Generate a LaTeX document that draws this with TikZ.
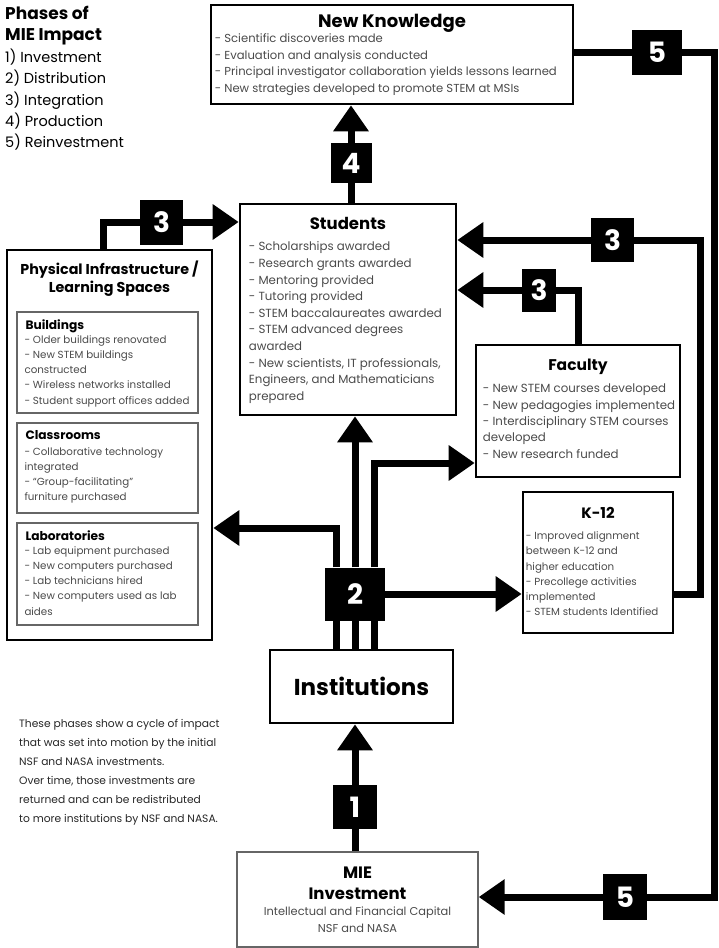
\documentclass[tikz,border=0pt]{standalone}
\usepackage{fontspec}
\setmainfont{Poppins}
\usepackage{tikz}
\usetikzlibrary{positioning,arrows.meta}
\definecolor{bodygray}{HTML}{4A4A4A}

\begin{document}
\begin{tikzpicture}[
  x=1pt, y=-1pt,
  panel/.style={draw, line width=2.6pt, inner sep=0pt},
  subpanel/.style={draw=black!60, line width=1.4pt, inner sep=0pt},
  head/.style={font=\fontsize{15}{18}\selectfont\bfseries, inner sep=0pt, align=center},
  subhead/.style={font=\fontsize{12.2}{14}\selectfont\bfseries, inner sep=0pt},
  body/.style={font=\fontsize{11.6}{16.5}\selectfont, text=bodygray, align=left, inner sep=0pt},
  fine/.style={font=\fontsize{10.3}{15.2}\selectfont, text=bodygray, align=left, inner sep=0pt},
  numbox/.style={fill=black, text=white, font=\fontsize{28}{28}\selectfont\bfseries,
                 minimum width=44pt, minimum height=44pt, inner sep=0pt},
  thk/.style={line width=7pt},
  flow/.style={line width=7pt, -{Triangle[length=26pt,width=34pt]}},
]
\useasboundingbox (0,0) rectangle (718,948);

% legend and note
\node[anchor=north west, align=left, inner sep=0pt,
      font=\fontsize{14.5}{21.4}\selectfont] (phases) at (5,6)
  {{\fontsize{17}{21.4}\selectfont\bfseries Phases of}\\
   {\fontsize{17}{21.4}\selectfont\bfseries MIE Impact}\\1) Investment\\2) Distribution\\
   3) Integration\\4) Production\\5) Reinvestment};
\node[anchor=north west, align=left, inner sep=0pt, text=black!85,
      font=\fontsize{10.7}{19}\selectfont] (cyclenote) at (19,719)
  {These phases show a cycle of impact\\that was set into motion by the initial\\
   NSF and NASA investments.\\Over time, those investments are\\
   returned and can be redistributed\\to more institutions by NSF and NASA.};

% boxes
\node[panel, minimum width=362pt, minimum height=99pt] (knowbox) at (392,54.5) {};
\node[head, font=\fontsize{18}{20}\selectfont\bfseries,
      below=10pt of knowbox.north] (knowhead) {New Knowledge};
\node[body, below right=30pt and 5pt of knowbox.north west] (knowtext)
  {- Scientific discoveries made\\- Evaluation and analysis conducted\\
   - Principal investigator collaboration yields lessons learned\\
   - New strategies developed to promote STEM at MSIs};

\node[panel, minimum width=216pt, minimum height=211pt] (stubox) at (348,309.5) {};
\node[head, font=\fontsize{16.5}{18}\selectfont\bfseries,
      below=14pt of stubox.north] (stuhead) {Students};
\node[body, font=\fontsize{11.8}{16.6}\selectfont,
      below right=39pt and 10pt of stubox.north west] (stutext)
  {- Scholarships awarded\\- Research grants awarded\\- Mentoring provided\\
   - Tutoring provided\\- STEM baccalaureates awarded\\- STEM advanced degrees\\awarded\\
   - New scientists, IT professionals,\\Engineers, and Mathematicians\\prepared};

\node[panel, minimum width=204pt, minimum height=132pt] (facbox) at (578,411) {};
\node[head, font=\fontsize{15.5}{18}\selectfont\bfseries,
      below=15pt of facbox.north] (fachead) {Faculty};
\node[body, font=\fontsize{11.8}{16.4}\selectfont,
      below right=40pt and 8pt of facbox.north west] (factext)
  {- New STEM courses developed\\- New pedagogies implemented\\
   - Interdisciplinary STEM courses\\developed\\- New research funded};

\node[panel, minimum width=150pt, minimum height=141pt] (k12box) at (598,562.5) {};
\node[head, below=16pt of k12box.north] (k12head) {K-12};
\node[fine, below right=41pt and 4pt of k12box.north west] (k12text)
  {- Improved alignment\\between K-12 and\\higher education\\- Precollege activities\\
   implemented\\- STEM students Identified};

\node[panel, minimum width=205pt, minimum height=390pt] (physbox) at (109.5,445) {};
\node[head, font=\fontsize{14.3}{18.5}\selectfont\bfseries,
      below=12pt of physbox.north] (physhead) {Physical Infrastructure /\\Learning Spaces};

\node[subpanel, minimum width=181pt, minimum height=101pt] (buildbox) at (107.5,362.5) {};
\node[subhead, below right=8pt and 9pt of buildbox.north west] (buildhead) {Buildings};
\node[fine, below right=24pt and 8pt of buildbox.north west] (buildtext)
  {- Older buildings renovated\\- New STEM buildings\\constructed\\
   - Wireless networks installed\\- Student support offices added};

\node[subpanel, minimum width=181pt, minimum height=90pt] (classbox) at (107.5,468) {};
\node[subhead, below right=8pt and 9pt of classbox.north west] (classhead) {Classrooms};
\node[fine, below right=25pt and 8pt of classbox.north west] (classtext)
  {- Collaborative technology\\integrated\\- ``Group-facilitating''\\furniture purchased};

\node[subpanel, minimum width=181pt, minimum height=102pt] (labbox) at (107.5,574) {};
\node[subhead, below right=8pt and 9pt of labbox.north west] (labhead) {Laboratories};
\node[fine, below right=24pt and 8pt of labbox.north west] (labtext)
  {- Lab equipment purchased\\- New computers purchased\\- Lab technicians hired\\
   - New computers used as lab\\aides};

\node[panel, minimum width=183pt, minimum height=73pt,
      font=\fontsize{23}{26}\selectfont\bfseries] (instbox) at (361.5,686.5) {Institutions};

\node[subpanel, minimum width=241pt, minimum height=95pt] (miebox) at (357.5,899.5) {};
\node[head, font=\fontsize{16.5}{21}\selectfont\bfseries,
      below=15pt of miebox.north] (miehead) {MIE\\Investment};
\node[fine, align=center, font=\fontsize{11.4}{17}\selectfont,
      below=7pt of miehead] (mietext) {Intellectual and Financial Capital\\NSF and NASA};

% phase squares
\node[numbox] (n1) at (355,807) {1};
\node[numbox, minimum width=60pt, minimum height=53pt] (n2) at (355,594) {2};
\node[numbox, minimum width=43pt, minimum height=45pt] (n3a) at (161.5,222) {3};
\node[numbox, minimum width=43pt] (n3b) at (612.5,240) {3};
\node[numbox, minimum width=34pt, minimum height=43pt] (n3c) at (539,290) {3};
\node[numbox, minimum width=41pt, minimum height=40pt] (n4) at (351,163) {4};
\node[numbox, minimum width=50pt, minimum height=45pt] (n5a) at (657,52) {5};
\node[numbox, minimum height=46pt] (n5b) at (625,897) {5};

\coordinate (rcorner) at (700,240);
\coordinate (rtop) at (714,52);
\coordinate (rbot) at (714,897);

% 1) investment
\draw[thk] (n1 |- miebox.north) -- (n1);
\draw[flow] (n1) -- (n1 |- instbox.south);

% 2) distribution
\foreach \dx in {-19,0,19}
  \draw[thk] ([xshift=\dx pt]n2.south) -- ([xshift=\dx pt]n2.south |- instbox.north);
\draw[flow] ([xshift=-19pt]n2.north) |- ([yshift=-83pt]physbox.east);
\draw[flow] (n2) -- (n2 |- stubox.south);
\draw[flow] ([xshift=19pt]n2.north) |- ([yshift=-52pt]facbox.west);
\draw[flow] (n2) -- (n2 -| k12box.west);

% 3) integration
\draw[thk] ([xshift=-6pt]physbox.north) |- (n3a);
\draw[flow] (n3a) -- (n3a -| stubox.west);
\draw[thk] (k12box.east |- n2) -| (rcorner) -- (n3b);
\draw[flow] (n3b) -- (n3b -| stubox.east);
\draw[thk] (facbox.north) |- (n3c);
\draw[flow] (n3c) -- (n3c -| stubox.east);

% 4) production
\draw[thk] (stubox.north -| n4) -- (n4);
\draw[flow] (n4) -- (n4 |- knowbox.south);

% 5) reinvestment
\draw[thk] (knowbox.east |- n5a) -- (n5a);
\draw[thk] (n5a) -- (rtop) -- (rbot) -- (n5b);
\draw[flow] (n5b) -- (n5b -| miebox.east);
\end{tikzpicture}
\end{document}
